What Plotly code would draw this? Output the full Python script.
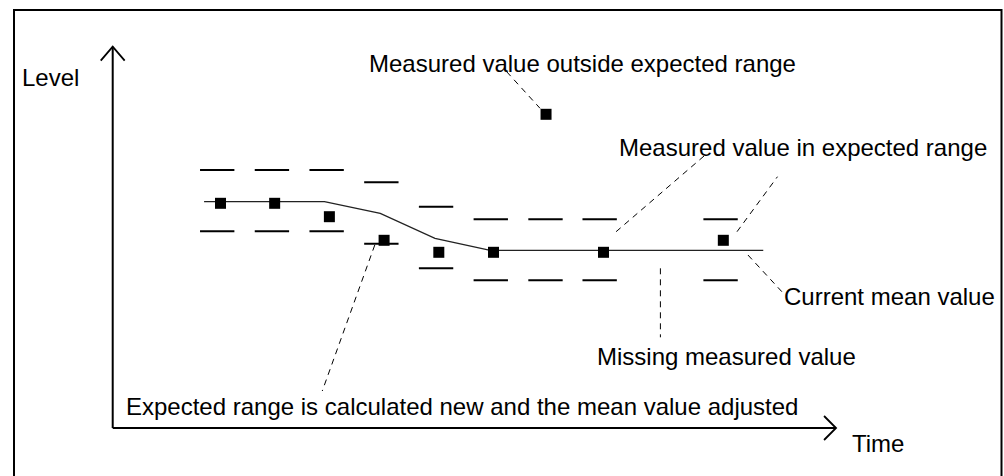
import plotly.graph_objects as go

# Time positions of the measurements and their levels
meas_time = [1.97, 2.96, 3.96, 4.96, 5.96, 6.96, 7.92, 8.97, 11.16]
meas_level = [22.47, 22.47, 21.13, 18.77, 17.57, 17.57, 31.37, 17.57, 18.77]

# Expected range per time slot (upper and lower limit)
range_time = [1.91, 2.91, 3.91, 4.91, 5.91, 6.91, 7.91, 8.90, 11.11]
range_upper = [25.8, 25.8, 25.8, 24.57, 22.13, 20.87, 20.87, 20.87, 20.87]
range_lower = [19.67, 19.67, 19.67, 18.43, 15.97, 14.77, 14.77, 14.77, 14.77]

# Running mean value
mean_time = [1.67, 3.87, 4.89, 5.89, 6.90, 11.89]
mean_level = [22.63, 22.63, 21.47, 18.97, 17.77, 17.77]

# Missing measurement slot
missing_time = 10.01

# Axis extents
time_axis_end = 13.22
level_axis_end = 38.13

X_RANGE = [-2.06, 16.29]
Y_RANGE = [-4.8, 42.8]

FONT = dict(family="Arial, Liberation Sans, sans-serif", size=24, color="black")

fig = go.Figure()

# Expected range bars (short horizontal strokes above and below the mean)
half = 0.314
dx, dy = [], []
for t, u, l in zip(range_time, range_upper, range_lower):
    dx += [t - half, t + half, None, t - half, t + half, None]
    dy += [u, u, None, l, l, None]
fig.add_trace(go.Scatter(x=dx, y=dy, mode="lines",
                         line=dict(color="black", width=2),
                         hoverinfo="skip"))

# Mean value curve
fig.add_trace(go.Scatter(x=mean_time, y=mean_level, mode="lines",
                         line=dict(color="#222222", width=1.3),
                         hoverinfo="skip"))

# Measured values
fig.add_trace(go.Scatter(x=meas_time, y=meas_level, mode="markers",
                         marker=dict(symbol="square", size=11, color="black",
                                     line=dict(width=0)),
                         hoverinfo="skip"))

shapes = []

# Axes with open arrow heads
axis_line = dict(color="black", width=2)
shapes.append(dict(type="line", x0=0, y0=0, x1=time_axis_end, y1=0, line=axis_line))
shapes.append(dict(type="line", x0=0, y0=0, x1=0, y1=level_axis_end, line=axis_line))
head = dict(color="black", width=1.8)
shapes.append(dict(type="path",
                   path=f"M {time_axis_end-0.219},1.2 L {time_axis_end},0 L {time_axis_end-0.219},-1.2",
                   line=head))
shapes.append(dict(type="path",
                   path=f"M -0.219,{level_axis_end-1.4} L 0,{level_axis_end} L 0.219,{level_axis_end-1.4}",
                   line=head))

# Dashed leader lines from the labels to the marks
leaders = [
    (7.20, 35.63, 7.81, 31.97),
    (9.20, 19.63, 10.85, 27.4),
    (11.41, 19.63, 12.15, 25.13),
    (11.61, 17.30, 12.23, 13.63),
    (missing_time, 15.97, missing_time, 9.07),
    (4.79, 18.30, 3.83, 3.70),
]
for x0, y0, x1, y1 in leaders:
    shapes.append(dict(type="line", x0=x0, y0=y0, x1=x1, y1=y1,
                       line=dict(color="black", width=1, dash="6px,5px")))

# Outer frame
shapes.append(dict(type="rect", xref="paper", yref="paper",
                   x0=14 / 1004, x1=1001.5 / 1004, y0=-0.01, y1=1 - 10 / 476,
                   line=dict(color="black", width=2)))

labels = [
    ("Level", -1.70, 34.2),
    ("Measured value outside expected range", 4.64, 35.63),
    ("Measured value in expected range", 9.22, 27.2),
    ("Current mean value", 12.23, 12.3),
    ("Missing measured value", 8.81, 6.3),
    ("Expected range is calculated new and the mean value adjusted", 0.21, 1.3),
    ("Time", 13.47, -2.37),
]
annotations = [dict(text=txt, x=x, y=y + 0.83, xanchor="left", yanchor="middle",
                    showarrow=False, font=FONT)
               for txt, x, y in labels]

fig.update_layout(
    width=1004, height=476,
    margin=dict(l=0, r=0, t=0, b=0),
    paper_bgcolor="white", plot_bgcolor="white",
    showlegend=False,
    xaxis=dict(range=X_RANGE, visible=False, fixedrange=True),
    yaxis=dict(range=Y_RANGE, visible=False, fixedrange=True),
    shapes=shapes,
    annotations=annotations,
)

fig.write_html("out.html")
